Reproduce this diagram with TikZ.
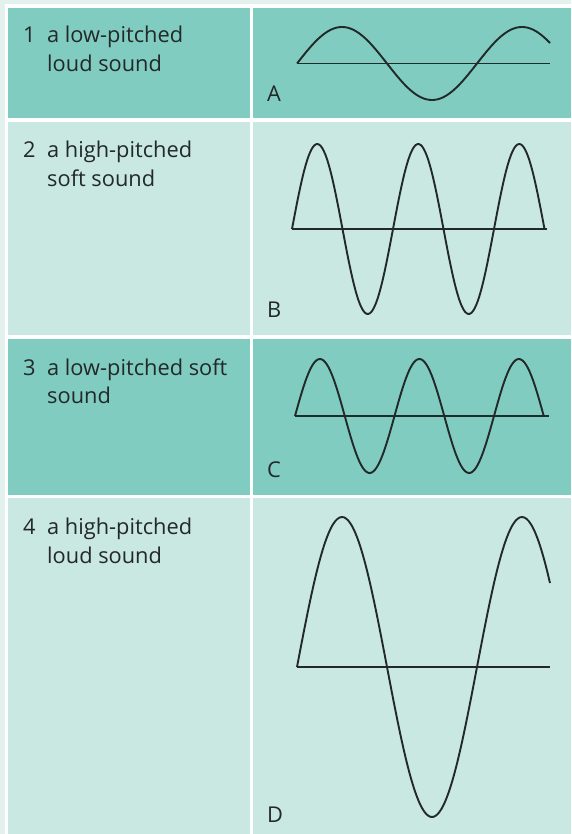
\documentclass[tikz,border=0pt]{standalone}
\usepackage{fontspec}
\setmainfont{Open Sans}
\definecolor{darkcell}{RGB}{128,204,192}
\definecolor{lightcell}{RGB}{200,232,225}
\definecolor{outer}{RGB}{226,241,238}
\definecolor{ink}{RGB}{35,40,40}
\tikzset{
  lbl/.style={anchor=base west, inner sep=0pt, font=\fontsize{21.8}{26}\selectfont, text=ink},
  wave/.style={draw=ink, line width=1.9pt, line join=round},
  axisline/.style={draw=ink, line width=1.4pt}
}
\begin{document}
\begin{tikzpicture}[x=1pt,y=-1pt]
\useasboundingbox (0,0) rectangle (571,834);
\fill[outer] (0,0) rectangle (571,834);
\fill[white] (4.5,4.5) rectangle (571,834);
% cells
\fill[darkcell]  (8,8) rectangle (250,118);
\fill[darkcell]  (253,8) rectangle (571,118);
\fill[lightcell] (8,122) rectangle (250,335);
\fill[lightcell] (253,122) rectangle (571,335);
\fill[darkcell]  (8,338.5) rectangle (250,494.5);
\fill[darkcell]  (253,338.5) rectangle (571,494.5);
\fill[lightcell] (8,498) rectangle (250,834);
\fill[lightcell] (253,498) rectangle (571,834);
% left texts
\node[lbl] (n1) at (23,43) {1};
\node[lbl] (t1a) at (47,43) {a low-pitched};
\node[lbl] (t1b) at (47,72) {loud sound};
\node[lbl] (n2) at (23,158) {2};
\node[lbl] (t2a) at (47,158) {a high-pitched};
\node[lbl] (t2b) at (47,187) {soft sound};
\node[lbl] (n3) at (23,375) {3};
\node[lbl] (t3a) at (47,375) {a low-pitched soft};
\node[lbl] (t3b) at (47,403) {sound};
\node[lbl] (n4) at (23,534) {4};
\node[lbl] (t4a) at (47,534) {a high-pitched};
\node[lbl] (t4b) at (47,563) {loud sound};
% letters
\node[lbl] (la) at (267,102) {A};
\node[lbl] (lb) at (267,317) {B};
\node[lbl] (lc) at (267,477) {C};
\node[lbl] (ld) at (267,822) {D};
% wave A
\draw[axisline] (297,63.5) -- (550,63.5);
\draw[wave] plot[domain=0:1.406,samples=120,smooth] ({297+180*\x},{63.5-36.5*sin(360*\x)});
% wave B
\draw[axisline] (292,229) -- (547,229);
\draw[wave] plot[domain=0:2.5,samples=160,smooth] ({292+101*\x},{229-85*sin(360*\x)});
% wave C
\draw[axisline] (295,416) -- (549,416);
\draw[wave] plot[domain=0:2.5,samples=160,smooth] ({295+99.5*\x},{416-57*sin(360*\x)});
% wave D
\draw[axisline] (297,667) -- (550,667);
\draw[wave] plot[domain=0:1.406,samples=120,smooth] ({297+180*\x},{667-150*sin(360*\x)});
\end{tikzpicture}
\end{document}
